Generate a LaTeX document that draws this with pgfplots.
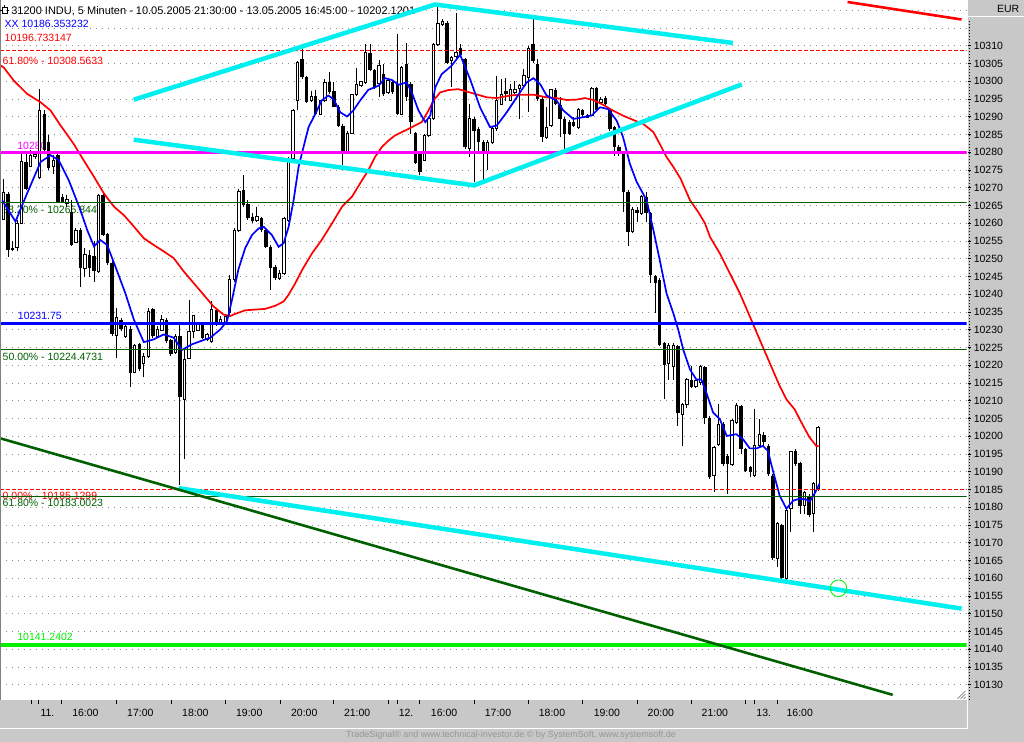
\documentclass[border=0pt]{standalone}
\usepackage{fontspec}
\setmainfont{Liberation Sans}
\usepackage{pgfplots}
\usepackage{pgfplotstable}
\pgfplotsset{compat=1.18}

\definecolor{panel}{RGB}{200,200,200}
\definecolor{fibgreen}{RGB}{0,96,0}
\definecolor{trendcyan}{RGB}{0,240,240}
\definecolor{magline}{RGB}{255,0,255}
\definecolor{limeline}{RGB}{0,240,0}
\definecolor{gridgray}{RGB}{140,140,140}
\definecolor{foot}{RGB}{150,150,150}

\newcommand\lbl{\fontsize{10.5}{12}\selectfont}

% 5-minute candles, x = bar number, o h l c
\pgfplotstableread{
x o h l c
0 10261.1 10272.6 10260.9 10268.6
3 10253.2 10260.9 10252.1 10260.0
4 10260.0 10279.6 10259.8 10277.3
6 10276.1 10280.6 10275.9 10279.2
7 10278.7 10280.1 10278.2 10279.35
8 10272.9 10297.9 10272.6 10291.8
11 10276.1 10279.2 10274.0 10277.8
14 10265.6 10268.0 10264.7 10266.7
16 10254.6 10258.6 10254.4 10258.1
18 10247.4 10253.0 10245.0 10251.1
21 10246.5 10268.4 10246.0 10267.95
25 10228.4 10236.2 10222.2 10233.6
27 10228.2 10231.5 10227.8 10231.0
29 10218.1 10225.9 10217.95 10225.6
31 10220.6 10223.6 10216.8 10222.6
32 10222.4 10236.2 10222.2 10235.2
34 10228.2 10231.0 10227.8 10230.1
35 10229.9 10234.3 10229.6 10232.9
38 10223.6 10228.7 10223.1 10228.2
40 10210.5 10224.5 10193.6 10221.7
41 10221.9 10238.5 10221.7 10229.6
42 10229.6 10234.3 10227.8 10234.0
43 10229.9 10232.0 10229.6 10231.5
45 10227.3 10229.2 10226.8 10228.7
46 10226.8 10238.0 10226.4 10235.7
48 10232.0 10233.8 10231.5 10232.9
49 10232.0 10234.3 10231.5 10233.8
50 10234.8 10245.5 10234.3 10244.1
51 10244.1 10258.6 10243.6 10258.1
52 10258.1 10269.8 10257.7 10268.9
56 10260.9 10264.7 10260.5 10261.9
61 10244.6 10246.9 10244.1 10246.0
62 10246.0 10261.9 10245.5 10261.4
63 10260.9 10278.7 10260.5 10277.7
64 10278.2 10292.2 10277.7 10291.8
65 10294.6 10305.8 10291.8 10305.3
68 10294.6 10297.4 10294.1 10295.7
70 10290.8 10294.75 10290.4 10294.6
71 10294.6 10300.6 10294.1 10299.7
76 10280.1 10286.15 10279.6 10285.4
77 10285.4 10296.4 10285.2 10296.25
78 10296.4 10303.9 10296.0 10299.2
79 10298.8 10300.2 10298.3 10299.9
80 10299.7 10310.45 10299.2 10308.1
83 10299.4 10306.0 10295.5 10304.6
85 10296.9 10300.6 10296.4 10300.2
88 10290.8 10304.4 10290.4 10303.9
93 10277.7 10285.2 10277.6 10284.75
94 10284.75 10289.9 10284.3 10289.4
95 10289.4 10310.9 10289.1 10310.45
96 10310.45 10321.2 10310.0 10316.2
97 10315.9 10317.5 10315.6 10316.8
99 10305.8 10307.2 10298.3 10306.7
100 10306.9 10319.3 10306.7 10308.1
103 10281.0 10293.6 10278.7 10289.4
107 10280.1 10283.35 10274.9 10282.9
108 10282.9 10287.1 10282.4 10286.6
109 10286.6 10301.6 10286.15 10294.6
110 10293.6 10300.6 10293.4 10296.4
112 10294.6 10299.2 10294.4 10297.6
113 10296.9 10300.2 10296.4 10297.8
114 10298.1 10299.2 10289.4 10298.8
115 10298.8 10303.4 10298.3 10301.6
116 10301.1 10310.0 10291.3 10309.3
120 10284.3 10292.7 10283.8 10287.1
121 10287.55 10297.8 10287.1 10297.6
127 10287.1 10292.5 10286.6 10292.2
129 10289.9 10290.8 10289.7 10290.4
130 10290.4 10298.5 10290.1 10298.1
132 10294.1 10295.5 10293.6 10295.0
139 10257.65 10264.7 10257.2 10263.9
141 10262.8 10267.9 10262.3 10267.5
147 10220.4 10226.3 10216.0 10225.65
148 10219.8 10226.3 10216.0 10225.65
150 10206.2 10209.5 10197.3 10209.0
151 10209.0 10216.5 10208.1 10216.0
153 10214.0 10216.0 10213.7 10215.6
154 10215.1 10220.2 10214.6 10219.8
157 10188.9 10197.3 10184.3 10196.9
158 10197.8 10209.0 10197.3 10203.4
161 10192.2 10204.8 10191.7 10204.35
162 10203.9 10209.3 10203.4 10208.55
166 10188.9 10207.6 10188.5 10197.3
167 10197.3 10204.8 10196.9 10200.6
171 10165.6 10175.85 10163.2 10175.4
173 10160.0 10179.6 10159.5 10179.1
174 10179.6 10195.9 10173.0 10195.7
177 10180.5 10184.7 10178.2 10184.3
179 10178.2 10187.1 10173.0 10186.6
180 10185.2 10202.8 10184.7 10202.5
}\up

\pgfplotstableread{
x o h l c
1 10268.4 10268.9 10250.4 10252.5
2 10253.0 10254.9 10252.1 10252.5
5 10277.3 10279.6 10269.35 10269.8
9 10290.8 10291.8 10279.6 10280.6
10 10282.9 10284.8 10275.0 10275.7
12 10279.2 10279.6 10265.6 10266.1
13 10267.5 10268.4 10265.6 10266.1
15 10263.3 10266.5 10253.7 10253.9
17 10258.1 10258.6 10242.2 10247.4
19 10251.1 10252.5 10245.0 10247.4
20 10250.7 10254.9 10243.6 10246.5
22 10268.0 10268.9 10256.3 10256.7
23 10257.0 10257.2 10248.3 10248.8
24 10248.8 10249.3 10228.4 10228.7
26 10232.9 10233.4 10229.6 10230.1
28 10230.3 10231.0 10214.0 10217.95
30 10225.9 10226.4 10218.4 10218.9
33 10235.9 10236.2 10227.8 10228.2
36 10232.9 10233.4 10226.4 10226.8
37 10227.0 10227.3 10222.6 10223.1
39 10228.2 10232.0 10186.2 10211.1
44 10231.5 10232.0 10227.3 10227.8
47 10235.5 10235.9 10231.0 10232.0
53 10269.3 10273.5 10264.7 10265.1
54 10265.4 10266.5 10260.9 10261.4
55 10261.9 10262.8 10260.0 10260.7
57 10261.4 10261.9 10257.6 10258.1
58 10258.1 10258.6 10253.0 10253.4
59 10253.4 10253.9 10241.3 10247.4
60 10247.8 10248.3 10244.1 10244.6
66 10306.2 10309.0 10300.6 10301.1
67 10301.3 10301.6 10293.8 10294.1
69 10296.0 10297.6 10290.4 10290.8
72 10299.7 10302.5 10296.4 10296.9
73 10297.4 10299.7 10292.7 10292.9
74 10292.9 10293.2 10287.1 10287.3
75 10287.55 10288.0 10276.3 10280.1
81 10308.1 10310.45 10303.0 10303.2
82 10303.2 10303.4 10297.8 10298.1
84 10302.0 10304.8 10296.0 10296.4
86 10299.7 10300.2 10296.4 10296.9
87 10299.2 10313.25 10290.4 10290.8
89 10305.0 10310.9 10294.6 10295.5
90 10299.2 10299.7 10285.2 10288.5
91 10285.4 10285.7 10276.8 10277.0
92 10279.6 10280.1 10273.5 10274.5
98 10316.5 10317.0 10304.8 10305.3
101 10309.5 10310.45 10306.9 10307.5
102 10306.2 10306.7 10281.0 10281.5
104 10289.4 10289.9 10271.7 10286.15
105 10286.6 10287.1 10280.1 10282.9
106 10282.9 10283.35 10272.1 10280.1
111 10297.4 10300.9 10294.6 10296.4
117 10310.45 10317.5 10305.3 10305.8
118 10304.8 10306.2 10294.6 10295.0
119 10295.0 10295.5 10282.9 10284.3
122 10297.6 10298.1 10293.2 10293.6
123 10293.2 10295.5 10284.3 10289.4
124 10289.4 10289.9 10281.0 10285.2
125 10288.5 10289.0 10284.75 10285.2
126 10288.5 10289.9 10287.1 10287.3
128 10291.95 10292.2 10289.9 10290.4
131 10298.1 10298.5 10291.3 10291.8
133 10295.3 10296.0 10293.2 10293.6
134 10291.8 10292.2 10286.15 10286.6
135 10287.1 10287.55 10279.1 10281.5
136 10281.5 10281.95 10279.1 10280.1
137 10280.1 10280.5 10263.25 10268.9
138 10268.9 10269.3 10253.6 10257.65
140 10263.9 10264.7 10260.5 10262.8
142 10267.3 10268.7 10260.3 10262.85
143 10262.85 10263.2 10243.1 10245.5
144 10245.2 10245.5 10234.7 10243.1
145 10244.1 10244.5 10225.4 10225.8
146 10226.3 10226.5 10210.4 10220.2
149 10225.4 10225.8 10202.95 10206.7
152 10216.0 10219.8 10213.7 10214.0
155 10219.6 10219.8 10203.4 10205.3
156 10205.3 10205.75 10188.0 10188.5
159 10203.4 10203.9 10191.7 10192.2
160 10194.5 10195.0 10183.8 10192.2
163 10208.55 10208.7 10195.0 10196.4
164 10196.4 10196.6 10189.9 10190.3
165 10191.3 10191.7 10188.5 10189.9
168 10200.3 10201.1 10197.3 10198.3
169 10197.3 10197.8 10188.9 10189.4
170 10188.9 10189.4 10165.1 10165.6
172 10174.9 10175.4 10159.5 10160.0
175 10195.9 10196.4 10191.7 10192.2
176 10192.5 10192.85 10178.2 10180.5
178 10183.3 10183.8 10177.25 10177.7
}\down

\pgfplotsset{
  bar err/.style 2 args={draw=none, mark=none,
    error bars/.cd, y dir=minus, y explicit, error mark=none,
    error bar style={draw=#1, line width=#2, solid, line cap=butt}},
}

\begin{document}
\begin{tikzpicture}[x=1pt,y=1pt]
\fill[panel] (0pt,0pt) rectangle (1024pt,742pt);
\begin{axis}[
  at={(0pt,42pt)}, anchor=south west,
  scale only axis, width=967pt, height=700pt,
  xmin=-0.662, xmax=212.8, ymin=10125.77, ymax=10322.78,
  axis background/.style={fill=white},
  axis line style={draw=none},
  tick align=outside, major tick length=4pt,
  tick style={black, line width=0.8pt},
  xtick pos=left, ytick pos=right, yticklabel pos=right,
  xtick={6.1,7.7,12.9,25,37,49,61.1,72.9,85,87,92,104,116,128,140,152,164,166,171},
  xticklabels={},
  extra x ticks={9.71,18.10,30.24,42.38,54.30,66.45,78.15,88.96,97.35,109.27,121.19,133.33,145.25,157.17,167.99,175.94},
  extra x tick labels={11.,16:00,17:00,18:00,19:00,20:00,21:00,12.,16:00,17:00,18:00,19:00,20:00,21:00,13.,16:00},
  extra x tick style={major tick length=0pt,
    xticklabel style={font=\lbl, anchor=base, inner sep=0pt, yshift=-16.5pt}},
  ytick={10130,10135,...,10310},
  scaled y ticks=false,
  extra y ticks={10315,10320}, extra y tick labels={},
  extra y tick style={major tick length=0pt, grid=major},
  yticklabel style={font=\lbl, anchor=west, inner sep=0pt, xshift=3pt,
    /pgf/number format/1000 sep={}},
  /pgf/number format/assume math mode=true,
  ymajorgrids,
  grid style={gridgray, line width=1pt, dash pattern=on 1pt off 5pt},
]

% texts on the chart, below the bars
\node[anchor=base west, inner sep=0pt, font=\fontsize{11}{12}\selectfont] at (axis description cs:0.01107,0.98029)
  {31200 INDU, 5 Minuten - 10.05.2005 21:30:00 - 13.05.2005 16:45:00 - 10202.1201};
\node[anchor=base west, inner sep=0pt, font=\lbl, text=blue] at (axis description cs:0.00414,0.96129) {XX 10186.353232};
\node[anchor=base west, inner sep=0pt, font=\lbl, text=red] at (axis description cs:0.00414,0.94171) {10196.733147};
\node[anchor=base west, inner sep=0pt, font=\lbl, text=red] at (axis description cs:0.00207,0.90886) {61.80\% - 10308.5633};
\node[anchor=base west, inner sep=0pt, font=\lbl, text=magline] at (axis description cs:0.01727,0.78743) {10280};
\node[anchor=base west, inner sep=0pt, font=\lbl, text=fibgreen] at (axis description cs:0.00176,0.696) {38.20\% - 10265.844};
\node[anchor=base west, inner sep=0pt, font=\lbl, text=blue] at (axis description cs:0.01789,0.54314) {10231.75};
\node[anchor=base west, inner sep=0pt, font=\lbl, text=fibgreen] at (axis description cs:0.00207,0.48457) {50.00\% - 10224.4731};
\node[anchor=base west, inner sep=0pt, font=\lbl, text=red] at (axis description cs:0.00207,0.28671) {0.00\% - 10185.1299};
\node[anchor=base west, inner sep=0pt, font=\lbl, text=fibgreen] at (axis description cs:0.00207,0.276) {61.80\% - 10183.0023};
\node[anchor=base west, inner sep=0pt, font=\lbl, text=limeline] at (axis description cs:0.01727,0.08414) {10141.2402};

% wicks
\addplot[bar err={black}{1pt}] table[x=x, y=h, y error minus expr=\thisrow{h}-\thisrow{l}] {\up};
\addplot[bar err={black}{1pt}] table[x=x, y=h, y error minus expr=\thisrow{h}-\thisrow{l}] {\down};
% bodies
\addplot[bar err={black}{3.4pt}] table[x=x, y=o, y error minus expr={max(\thisrow{o}-\thisrow{c},0.28)}] {\down};
\addplot[bar err={black}{3.4pt}] table[x=x, y expr=\thisrow{c}+0.14, y error minus expr=\thisrow{c}-\thisrow{o}+0.28] {\up};
\addplot[bar err={white}{1.4pt}] table[x=x, y expr=\thisrow{c}-0.14, y error minus expr={max(\thisrow{c}-\thisrow{o}-0.28,0)}] {\up};

% moving averages
\addplot[red, line width=1.7pt] coordinates {
(-0.66,10304.5) (0.07,10303.9) (2.28,10300.2) (5.2,10296.5) (8.2,10294.1) (10.4,10291.8) (12.6,10287.6) (15.5,10282.4) (17.7,10277.8) (20,10273.1) (22.2,10268.4) (24.4,10264.7) (26.6,10262.3) (28.8,10259.1) (31.0,10255.8) (33.2,10253.9) (35.4,10252.1) (37.6,10250.2) (39.8,10246.5) (42.0,10243.2) (44.2,10239.9) (46.4,10236.6) (48.6,10234.3) (50.1,10233.9) (51.2,10234.5) (53.4,10235.5) (55.6,10235.7) (57.8,10235.9) (60.1,10236.8) (61.9,10238.0) (63.0,10239.9) (64.5,10243.2) (66.0,10246.9) (68.2,10251.6) (70.3,10255.3) (72.6,10260.0) (74.8,10264.7) (77.0,10267.5) (79.2,10272.1) (80.6,10274.9) (82.1,10278.7) (83.6,10281.5) (85.1,10283.35) (86.5,10284.75) (88.0,10285.7) (89.5,10286.6) (90.9,10287.55) (92.4,10288.5) (93.9,10291.75) (95.0,10294.6) (96.5,10296.9) (98.3,10297.55) (100.5,10297.8) (103.8,10296.6) (106.8,10295.5) (109.0,10295.3) (111.9,10296.0) (114.1,10296.25) (117.1,10296.25) (120.0,10295.5) (122.2,10295.3) (124.4,10294.75) (126.6,10294.85) (128.5,10295.3) (130.3,10294.75) (132.5,10293.4) (134.7,10291.75) (136.9,10290.35) (139.2,10289.1) (141.4,10288.0) (143.6,10285.7) (145.0,10282.4) (146.5,10278.7) (148.0,10275.9) (149.6,10272.6) (151.7,10266.5) (153.5,10263.2) (155.0,10260.0) (156.1,10256.2) (158.3,10251.5) (160.5,10245.9) (162.7,10240.3) (164.9,10233.8) (167.1,10227.2) (169.3,10220.7) (171.5,10214.2) (173.0,10210.4) (174.8,10207.6) (176.7,10202.95) (178.1,10199.7) (179.6,10197.3) (180.1,10197.3)
};
\addplot[blue, line width=1.7pt] coordinates {
(-0.3,10266.5) (2.65,10260.5) (5.2,10268.4) (8.2,10277.3) (10.4,10279.2) (12.2,10277.8) (14.4,10272.2) (17,10263.7) (18.5,10258.1) (20,10253.5) (21.4,10255.3) (22.9,10253.9) (24.7,10247.9) (26.9,10240.4) (28.8,10232.9) (31,10226.55) (33.2,10227.3) (35.4,10228.7) (37.6,10227.8) (39.4,10224.3) (41.6,10225.9) (43.5,10226.8) (45.7,10227.8) (47.9,10230.1) (49.4,10232.5) (50.5,10238.5) (51.9,10247) (53.4,10253.0) (54.9,10256.7) (56.4,10258.6) (57.5,10259.0) (59.3,10256.7) (60.8,10253.4) (61.9,10254.4) (63.0,10259.0) (64.1,10266.5) (65.2,10275.9) (66.3,10281.5) (67.4,10287.1) (68.9,10290.8) (70.3,10294.6) (71.8,10296.0) (72.9,10295.0) (74.4,10291.3) (75.9,10290.1) (77.3,10291.8) (78.8,10294.6) (80.6,10297.6) (82.9,10298.8) (84.3,10300.9) (85.8,10300.4) (87.3,10299.05) (89.1,10299.7) (90.2,10296.9) (91.7,10291.8) (93.2,10288.5) (94.3,10290.4) (95.4,10298.3) (96.8,10302.0) (99.0,10304.4) (100.9,10307.5) (103.1,10300.6) (105.3,10292.7) (107.5,10287.1) (109.0,10287.55) (111.2,10291.3) (113.4,10295.5) (115.6,10299.7) (117.1,10300.9) (118.6,10299.2) (120.0,10296.0) (122.2,10294.6) (123.7,10291.8) (125.9,10289.4) (128.1,10289.9) (130.0,10290.4) (131.8,10292.7) (133.6,10292.2) (135.5,10288.9) (136.9,10284.3) (138.4,10276.8) (139.9,10271.7) (141.3,10268.4) (142.1,10266.5) (143.6,10258.1) (145.0,10249.7) (146.5,10240.3) (148.0,10234.7) (149.1,10230.0) (150.2,10224.4) (151.7,10218.8) (153.1,10216.0) (154.2,10216.0) (155.3,10212.3) (156.8,10206.7) (158.3,10204.8) (159.8,10200.1) (161.9,10200.6) (163.4,10199.2) (164.9,10196.6) (166.4,10196.6) (167.8,10197.3) (168.9,10195.9) (170.1,10189.9) (171.5,10183.3) (173.0,10179.6) (174.5,10181.9) (175.9,10182.4) (177.4,10182.2) (178.1,10181.6) (179.2,10183.8) (180.3,10186.6)
};

% horizontal levels
\addplot[red, line width=1pt, dash pattern=on 4pt off 2pt] coordinates {(-0.662,10308.5633) (212.8,10308.5633)};
\addplot[magline, line width=3pt] coordinates {(-0.662,10280) (212.8,10280)};
\addplot[fibgreen, line width=1pt] coordinates {(-0.662,10265.844) (212.8,10265.844)};
\addplot[blue, line width=3.3pt] coordinates {(-0.662,10231.75) (212.8,10231.75)};
\addplot[fibgreen, line width=1pt] coordinates {(-0.662,10224.4731) (212.8,10224.4731)};
\addplot[red, line width=1pt, dash pattern=on 4pt off 2pt] coordinates {(-0.662,10185.1299) (212.8,10185.1299)};
\addplot[fibgreen, line width=1pt] coordinates {(-0.662,10183.0023) (212.8,10183.0023)};
\addplot[limeline, line width=3.3pt] coordinates {(-0.662,10141.2402) (212.8,10141.2402)};

% trend lines
\addplot[trendcyan, line width=4.5pt] coordinates {(28.77,10294.83) (95.36,10321.65) (161.15,10310.82)};
\addplot[trendcyan, line width=4.5pt] coordinates {(28.77,10283.57) (103.97,10270.71) (163.13,10299.14)};
\addplot[trendcyan, line width=4.5pt] coordinates {(38.7,10185.4) (211.7,10151.46)};
\addplot[fibgreen, line width=2.6pt] coordinates {(-0.662,10199.42) (196.47,10127.17)};
\addplot[red, line width=2.6pt] coordinates {(186.5,10322.36) (211.7,10317.43)};
\addplot[only marks, mark=o, mark size=8.3pt, mark options={draw=limeline, line width=0.8pt}] coordinates {(184.5,10157.2)};
\end{axis}

% window furniture
\draw[gray, line width=1pt] (0.5,42) -- (0.5,742);
\draw[white, line width=1pt] (0,13.5) -- (968,13.5);
\draw[white, line width=1pt] (967.5,13) -- (967.5,742);
\draw[white, line width=1pt] (968,726.3) -- (1024,726.3);
\draw[black, line width=0.8pt, dash pattern=on 1pt off 2pt] (969.5,42) -- (969.5,722);
\node[anchor=base east, inner sep=0pt, font=\lbl] at (1020,729.9) {EUR};
\node[anchor=base, inner sep=0pt, font=\fontsize{9}{10}\selectfont, text=foot] at (511,4.5)
  {TradeSignal® and www.technical-investor.de © by SystemSoft, www.systemsoft.de};
% chart title icon
\draw[black, line width=0.8pt] (2,729.5) rectangle (6.5,735);
\draw[black, line width=0.8pt] (4.25,735) -- (4.25,737.5) (0,732.2) -- (2,732.2) (6.5,732.2) -- (8.5,732.2);
% resize grip
\draw[gray, line width=0.8pt] (958,43) -- (966,51) (961,43) -- (966,48) (964,43) -- (966,45);
\end{tikzpicture}
\end{document}
